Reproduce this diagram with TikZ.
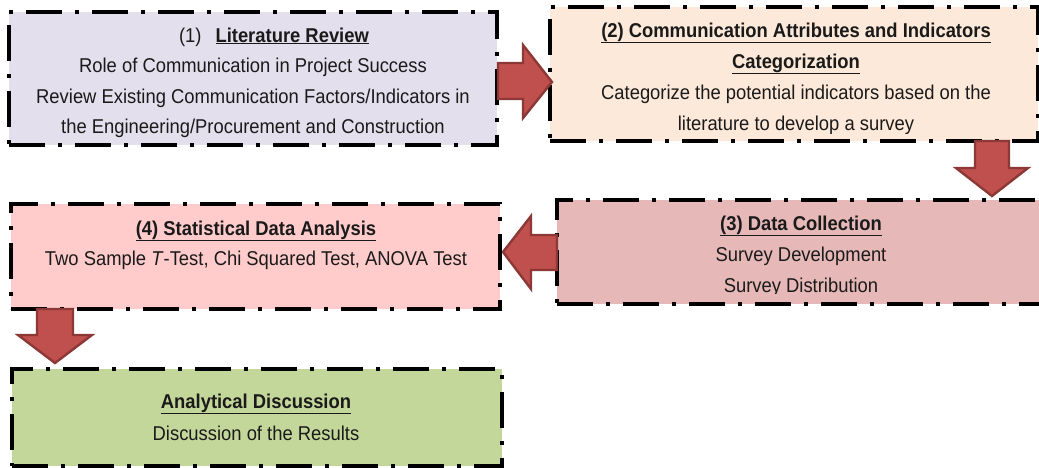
\documentclass[tikz,border=0pt]{standalone}
\usepackage{fontspec}
\setmainfont{Liberation Sans}[FakeStretch=0.92]
\definecolor{litfill}{HTML}{E4DFEC}
\definecolor{catfill}{HTML}{FDE9D9}
\definecolor{colfill}{HTML}{E6B9B8}
\definecolor{statfill}{HTML}{FFCBCB}
\definecolor{discfill}{HTML}{C4D79B}
\definecolor{arrowred}{HTML}{C0504D}
\definecolor{arrowedge}{HTML}{8C3836}
\definecolor{textgray}{HTML}{1A1A1A}
\newcommand{\stagehead}[1]{\underline{\textbf{#1}}}
\begin{document}
\begin{tikzpicture}[x=1pt,y=-1pt,
  stage/.style={draw=black, line width=3.8pt,
    dash pattern=on 36pt off 13pt on 4pt off 13pt,
    anchor=north west, inner sep=0pt, outer sep=0pt},
  blockarrow/.style={fill=arrowred, draw=arrowedge, line width=2.4pt, line join=miter},
  line/.style={anchor=base, inner sep=0pt, text=textgray,
    font=\fontsize{20}{24}\selectfont}
]
\useasboundingbox (0,0) rectangle (1039,467);
\clip (0,0) rectangle (1039,467);

% stage boxes
\node[stage, fill=litfill,  minimum width=488pt, minimum height=133pt] (b1) at (9,12) {};
\node[stage, fill=catfill,  minimum width=488pt, minimum height=134pt] (b2) at (550,7) {};
\node[stage, fill=colfill,  minimum width=484pt, minimum height=104pt] (b3) at (557,200) {};
\node[stage, fill=statfill, minimum width=489pt, minimum height=105pt] (b4) at (11,204) {};
\node[stage, fill=discfill, minimum width=490pt, minimum height=97pt]  (b5) at (12,369) {};

% block arrows between the stages
\draw[blockarrow] (498,63) -- (523,63) -- (523,45) -- (552,82) -- (523,118)
  -- (523,99) -- (498,99) -- cycle;
\draw[blockarrow] (975,141) -- (1009,141) -- (1009,168) -- (1028,168) -- (992,196)
  -- (956,168) -- (975,168) -- cycle;
\draw[blockarrow] (557,235) -- (531,235) -- (531,216) -- (503,252) -- (531,289)
  -- (531,270) -- (557,270) -- cycle;
\draw[blockarrow] (37,309) -- (73,309) -- (73,335) -- (92,335) -- (55,363)
  -- (18,335) -- (37,335) -- cycle;

% (1) literature review
\begin{scope}
\clip (9,12) rectangle (497,137);
\node[line] (t1a) at (274,42) {(1)\hspace{14pt}\stagehead{Literature Review}};
\node[line] (t1b) at (253,72.5) {Role of Communication in Project Success};
\node[line] (t1c) at (253,103) {Review Existing Communication Factors/Indicators in};
\node[line] (t1d) at (253,133.5) {the Engineering/Procurement and Construction};
\end{scope}

% (2) categorization
\begin{scope}
\clip (550,7) rectangle (1038,133);
\node[line] (t2a) at (796,37) {\stagehead{(2) Communication Attributes and Indicators}};
\node[line] (t2b) at (796,68) {\stagehead{Categorization}};
\node[line] (t2c) at (796,99) {Categorize the potential indicators based on the};
\node[line] (t2d) at (796,130) {literature to develop a survey};
\end{scope}

% (3) data collection
\begin{scope}
\clip (557,200) rectangle (1039,293);
\node[line] (t3a) at (801,230) {\stagehead{(3) Data Collection}};
\node[line] (t3b) at (801,261) {Survey Development};
\node[line] (t3c) at (801,292) {Survey Distribution};
\end{scope}

% (4) statistical analysis
\node[line] (t4a) at (256,235) {\stagehead{(4) Statistical Data Analysis}};
\node[line] (t4b) at (256,265) {Two Sample \textit{T}-Test, Chi Squared Test, ANOVA Test};

% analytical discussion
\node[line] (t5a) at (256,408) {\stagehead{Analytical Discussion}};
\node[line] (t5b) at (256,440) {Discussion of the Results};
\end{tikzpicture}
\end{document}
